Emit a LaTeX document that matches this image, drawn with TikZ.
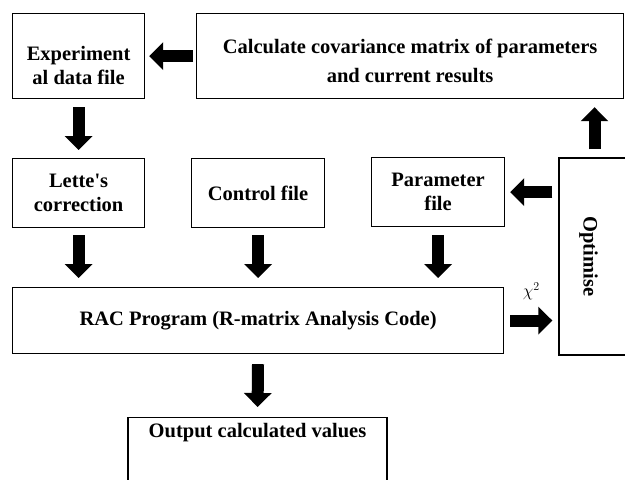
\documentclass[tikz,border=0pt]{standalone}
\usepackage{fontspec}
\setmainfont{Liberation Serif}
\usetikzlibrary{arrows.meta}

\tikzset{
  box/.style={draw, line width=1.2pt, align=center, anchor=north west, inner sep=2pt,
    font=\bfseries\fontsize{20.5}{24}\selectfont},
  fatarrow/.style={line width=12pt, -{Triangle[length=14pt,width=27pt]},
    shorten <=8pt, shorten >=8pt},
}

\begin{document}
\begin{tikzpicture}[x=1pt,y=-1pt]
  \useasboundingbox (0,0) rectangle (625,480);

  % Top row
  \node[box, minimum width=132pt, minimum height=85pt] (exp) at (12,13)
    {\rule{0pt}{32pt}Experiment\\al data file};
  \node[box, minimum width=427pt, minimum height=85pt] (calc) at (196,13)
    {\rule{0pt}{24pt}Calculate covariance matrix of parameters\\[5pt]and current results};

  % Input files
  \node[box, minimum width=132pt, minimum height=69pt] (lette) at (12,158)
    {Lette\textquotesingle s\\correction};
  \node[box, minimum width=133pt, minimum height=69pt] (control) at (191,158)
    {Control file};
  \node[box, minimum width=133pt, minimum height=69pt] (param) at (371,157)
    {Parameter\\file};

  % Optimiser (turned: west = top, south = left)
  \node[box, anchor=center, rotate=-90, inner sep=0pt, minimum width=197pt,
    text height=70pt, text depth=24.5pt] (opt) at (606.25,256.5) {Optimise};

  % Program and output
  \node[box, minimum width=491pt, minimum height=66pt] (rac) at (12,287)
    {RAC Program (R-matrix Analysis Code)};
  \node[box, anchor=north, minimum width=259pt, inner ysep=6pt,
    text height=14pt, text depth=60pt] (out) at (257.5,417)
    {Output calculated values};

  % Arrows
  \draw[fatarrow, shorten <=3pt, shorten >=4pt] (calc.west) -- (exp.east);
  \draw[fatarrow] (exp.south) -- (lette.north);
  \draw[fatarrow, shorten <=7pt, shorten >=9pt] (lette.south) -- (lette.south |- rac.north);
  \draw[fatarrow, shorten <=7pt, shorten >=9pt] (control.south) -- (control.south |- rac.north);
  \draw[fatarrow, shorten >=9pt] (param.south) -- (param.south |- rac.north);
  \draw[fatarrow, shorten <=6pt, shorten >=5pt] (opt.south |- param.east) -- (param.east);
  \draw[fatarrow] (opt.west -| 594.5,0) -- (calc.south -| 594.5,0);
  \draw[fatarrow, shorten <=6pt, shorten >=6pt] (rac.east) -- (rac.east -| opt.south)
    node[midway, above=11pt, font=\fontsize{17}{20}\selectfont] {$\chi^2$};
  \draw[fatarrow, shorten <=10pt, shorten >=10pt] (rac.south) -- (out.north);
\end{tikzpicture}
\end{document}
